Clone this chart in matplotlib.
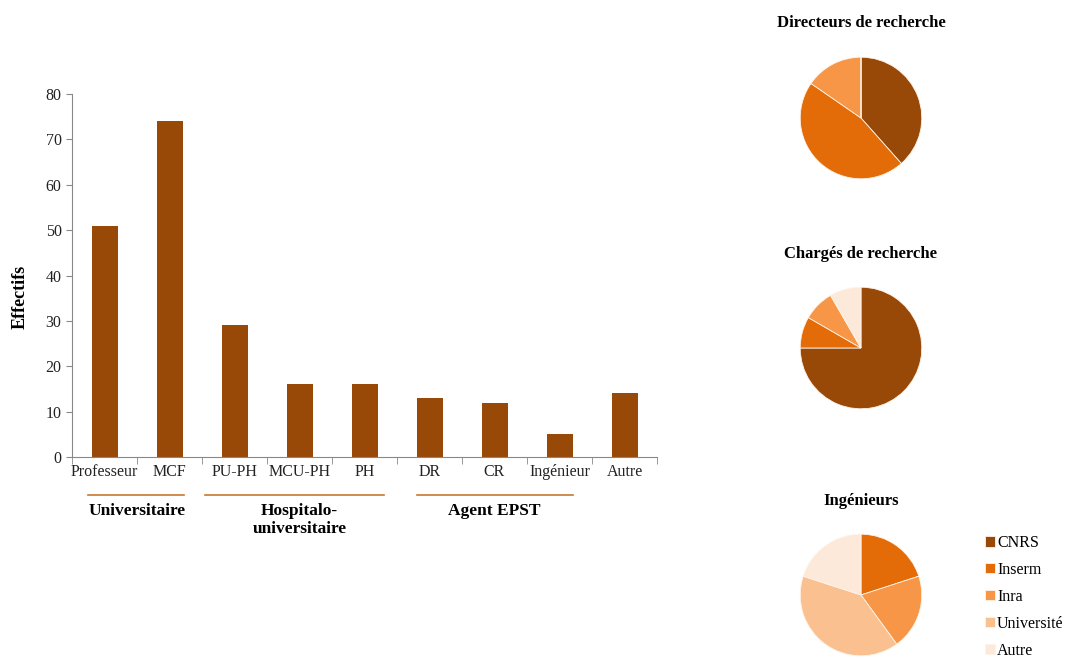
import matplotlib.pyplot as plt

# bar chart data
categories = ["Professeur", "MCF", "PU-PH", "MCU-PH", "PH", "DR", "CR", "Ingénieur", "Autre"]
effectifs = [51, 74, 29, 16, 16, 13, 12, 5, 14]

# pie data (order: CNRS, Inserm, Inra, Université, Autre)
organismes = ["CNRS", "Inserm", "Inra", "Université", "Autre"]
dr_counts = [5, 6, 2, 0, 0]
cr_counts = [9, 1, 1, 0, 1]
ing_counts = [0, 1, 1, 2, 1]
pie_titles = ["Directeurs de recherche", "Chargés de recherche", "Ingénieurs"]

groups = ["Universitaire", "Hospitalo-\nuniversitaire", "Agent EPST"]

pie_colors = ["#984807", "#E36C09", "#F79646", "#FAC090", "#FDE9D9"]
bar_color = "#984807"
line_color = "#C8782E"

plt.rcParams['font.family'] = ['Liberation Serif', 'DejaVu Serif']

W, H = 1069, 659
fig = plt.figure(figsize=(W / 100, H / 100), dpi=100)

def px_axes(x0, y0, x1, y1):
    # pixel box (top-left origin) -> figure axes
    return fig.add_axes([x0 / W, 1 - y1 / H, (x1 - x0) / W, (y1 - y0) / H])

ax = px_axes(72, 94, 657, 457)
x = list(range(len(categories)))
ax.bar(x, effectifs, width=0.4, color=bar_color)
ax.set_xlim(-0.5, len(categories) - 0.5)
ax.set_ylim(0, 80)
ax.set_yticks(range(0, 81, 10))
ax.set_xticks(x)
ax.set_xticklabels(categories, fontsize=11.5, color='#222222')
ax.tick_params(axis='x', length=0, pad=5)
ax.tick_params(axis='y', labelsize=11.5, labelcolor='#222222', length=4, color='#888888')
# boundary ticks between categories
ax.set_xticks([i - 0.5 for i in range(len(categories) + 1)], minor=True)
ax.tick_params(axis='x', which='minor', length=5, color='#888888')
for s in ['top', 'right']:
    ax.spines[s].set_visible(False)
for s in ['left', 'bottom']:
    ax.spines[s].set_color('#888888')
ax.set_ylabel("Effectifs", fontweight='bold', fontsize=13)
ax.yaxis.set_label_coords(-0.074, 0.44)

# group lines and labels under the axis
trans = ax.get_xaxis_transform()
group_spans = [(-0.25, 1.22), (1.55, 4.3), (4.8, 7.2)]
group_centers = [0.5, 3.0, 6.0]
for (a, b), c, g in zip(group_spans, group_centers, groups):
    ax.plot([a, b], [-0.105, -0.105], transform=trans, color=line_color,
            lw=1.2, clip_on=False)
    ax.text(c, -0.128, g, transform=trans, ha='center', va='top',
            fontsize=12.5, fontweight='bold', linespacing=1.15)

# pies
pie_data = [dr_counts, cr_counts, ing_counts]
pie_centers = [(861, 118), (861, 348), (861, 595)]
title_y = [23, 254, 501]
r = 62
wedges_last = None
for counts, (cx, cy), t, ty in zip(pie_data, pie_centers, pie_titles, title_y):
    pax = px_axes(cx - r, cy - r, cx + r, cy + r)
    wedges, _ = pax.pie(counts, colors=pie_colors, startangle=90, counterclock=False,
                        wedgeprops=dict(edgecolor='#fff3e8', linewidth=0.6))
    pax.set_xlim(-1.02, 1.02)
    pax.set_ylim(-1.02, 1.02)
    pax.set_aspect('equal')
    fig.text(cx / W, 1 - ty / H, t, ha='center', va='center',
             fontsize=12, fontweight='bold')
    wedges_last = wedges

fig.legend(wedges_last, organismes, loc='upper left',
           bbox_to_anchor=(974 / W, 1 - 524 / H), frameon=False,
           fontsize=11.5, handlelength=0.6, handleheight=0.6,
           handletextpad=0.15, labelspacing=0.68, borderpad=0.2)

fig.savefig("out.png", dpi=100)
